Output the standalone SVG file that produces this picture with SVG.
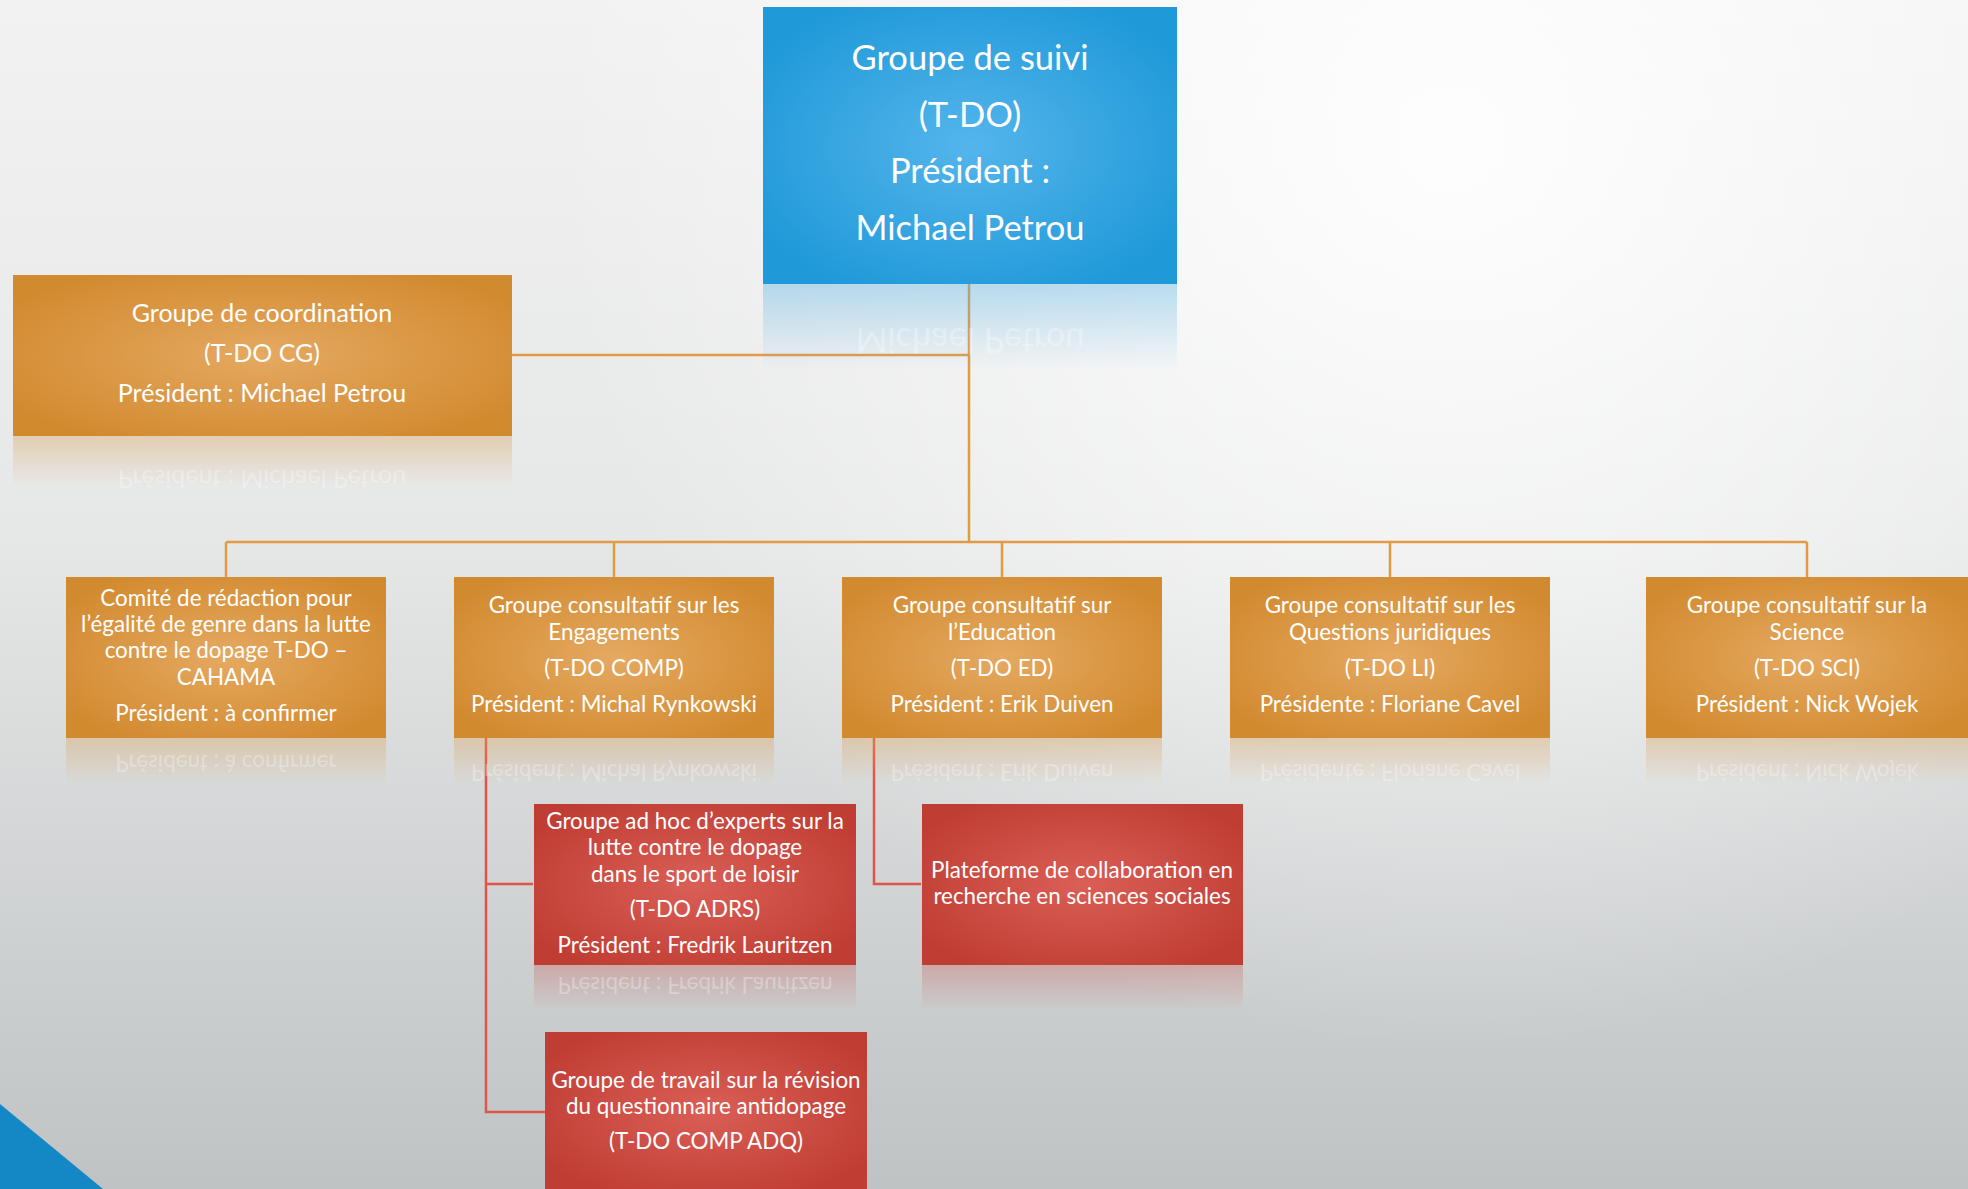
<svg xmlns="http://www.w3.org/2000/svg" width="1968" height="1189" viewBox="0 0 1968 1189">
<defs>
<linearGradient id="bg" x1="0" y1="0" x2="0" y2="1">
<stop offset="0" stop-color="#f2f2f2"/>
<stop offset="0.45" stop-color="#e6e7e7"/>
<stop offset="1" stop-color="#bfc3c4"/>
</linearGradient>
<radialGradient id="glow" cx="1450" cy="150" r="900" gradientUnits="userSpaceOnUse">
<stop offset="0" stop-color="#ffffff" stop-opacity="0.9"/>
<stop offset="1" stop-color="#ffffff" stop-opacity="0"/>
</radialGradient>
<radialGradient id="og" cx="0.5" cy="0.5" r="0.6">
<stop offset="0" stop-color="#e5a961"/>
<stop offset="1" stop-color="#d28a2f"/>
</radialGradient>
<radialGradient id="bgBlue" cx="0.5" cy="0.5" r="0.6">
<stop offset="0" stop-color="#54b5ec"/>
<stop offset="1" stop-color="#1f99d8"/>
</radialGradient>
<radialGradient id="rg" cx="0.5" cy="0.5" r="0.6">
<stop offset="0" stop-color="#da5f57"/>
<stop offset="1" stop-color="#c03d33"/>
</radialGradient>
<linearGradient id="orf" x1="0" y1="0" x2="0" y2="1">
<stop offset="0" stop-color="#d9a55f" stop-opacity="0.4"/>
<stop offset="1" stop-color="#d9a55f" stop-opacity="0"/>
</linearGradient>
<linearGradient id="brf" x1="0" y1="0" x2="0" y2="1">
<stop offset="0" stop-color="#5cb3e3" stop-opacity="0.4"/>
<stop offset="1" stop-color="#5cb3e3" stop-opacity="0"/>
</linearGradient>
<linearGradient id="rrf" x1="0" y1="0" x2="0" y2="1">
<stop offset="0" stop-color="#c8504a" stop-opacity="0.3"/>
<stop offset="1" stop-color="#c8504a" stop-opacity="0"/>
</linearGradient>
</defs>
<style>
text{font-family:Lato,"Open Sans","Liberation Sans",sans-serif;fill:#ffffff;text-anchor:middle}
.t{font-size:34.5px}
.c{font-size:25px}
.s{font-size:22.4px}
.rf{opacity:0.3}
.ol{stroke:#e29a46;stroke-width:2.5;fill:none}
.rl{stroke:#e0544a;stroke-width:2.5;fill:none}
</style>
<rect width="1968" height="1189" fill="url(#bg)"/>
<rect width="1968" height="1189" fill="url(#glow)"/>
<polygon points="0,1104 103,1189 0,1189" fill="#1487c5"/>

<g id="connectors">
<path class="ol" d="M969,284 V542"/>
<path class="ol" d="M512,355 H969"/>
<path class="ol" d="M226,542 H1807"/>
<path class="ol" d="M226,542 V577 M614,542 V577 M1002,542 V577 M1390,542 V577 M1807,542 V577"/>
<path class="rl" d="M486,738 V1112 H545 M486,884 H533"/>
<path class="rl" d="M874,738 V884 H921"/>
</g>

<g id="n-suivi">
<rect x="763" y="284" width="414" height="86" fill="url(#brf)"/>
<text class="t rf" transform="translate(0,568) scale(1,-1)" x="970" y="240">Michael Petrou</text>
<rect x="763" y="7" width="414" height="277" fill="url(#bgBlue)"/>
<text class="t" x="970" y="70">Groupe de suivi</text>
<text class="t" x="970" y="127">(T-DO)</text>
<text class="t" x="970" y="183">Président :</text>
<text class="t" x="970" y="240">Michael Petrou</text>
</g>

<g id="n-cg">
<rect x="13" y="436" width="499" height="50" fill="url(#orf)"/>
<text class="c rf" transform="translate(0,872) scale(1,-1)" x="262" y="402">Président : Michael Petrou</text>
<rect x="13" y="275" width="499" height="161" fill="url(#og)"/>
<text class="c" x="262" y="322">Groupe de coordination</text>
<text class="c" x="262" y="362">(T-DO CG)</text>
<text class="c" x="262" y="402">Président : Michael Petrou</text>
</g>

<g id="n-cahama">
<rect x="66" y="738" width="320" height="46" fill="url(#orf)"/>
<text class="s rf" transform="translate(0,1476) scale(1,-1)" x="226" y="721">Président : à confirmer</text>
<rect x="66" y="577" width="320" height="161" fill="url(#og)"/>
<text class="s" x="226" y="606">Comité de rédaction pour</text>
<text class="s" x="226" y="632">l’égalité de genre dans la lutte</text>
<text class="s" x="226" y="658">contre le dopage T-DO –</text>
<text class="s" x="226" y="685">CAHAMA</text>
<text class="s" x="226" y="721">Président : à confirmer</text>
</g>

<g id="n-comp">
<rect x="454" y="738" width="320" height="46" fill="url(#orf)"/>
<text class="s rf" transform="translate(0,1476) scale(1,-1)" x="614" y="712">Président : Michal Rynkowski</text>
<rect x="454" y="577" width="320" height="161" fill="url(#og)"/>
<text class="s" x="614" y="613">Groupe consultatif sur les</text>
<text class="s" x="614" y="640">Engagements</text>
<text class="s" x="614" y="676">(T-DO COMP)</text>
<text class="s" x="614" y="712">Président : Michal Rynkowski</text>
</g>

<g id="n-ed">
<rect x="842" y="738" width="320" height="46" fill="url(#orf)"/>
<text class="s rf" transform="translate(0,1476) scale(1,-1)" x="1002" y="712">Président : Erik Duiven</text>
<rect x="842" y="577" width="320" height="161" fill="url(#og)"/>
<text class="s" x="1002" y="613">Groupe consultatif sur</text>
<text class="s" x="1002" y="640">l’Education</text>
<text class="s" x="1002" y="676">(T-DO ED)</text>
<text class="s" x="1002" y="712">Président : Erik Duiven</text>
</g>

<g id="n-li">
<rect x="1230" y="738" width="320" height="46" fill="url(#orf)"/>
<text class="s rf" transform="translate(0,1476) scale(1,-1)" x="1390" y="712">Présidente : Floriane Cavel</text>
<rect x="1230" y="577" width="320" height="161" fill="url(#og)"/>
<text class="s" x="1390" y="613">Groupe consultatif sur les</text>
<text class="s" x="1390" y="640">Questions juridiques</text>
<text class="s" x="1390" y="676">(T-DO LI)</text>
<text class="s" x="1390" y="712">Présidente : Floriane Cavel</text>
</g>

<g id="n-sci">
<rect x="1646" y="738" width="322" height="46" fill="url(#orf)"/>
<text class="s rf" transform="translate(0,1476) scale(1,-1)" x="1807" y="712">Président : Nick Wojek</text>
<rect x="1646" y="577" width="322" height="161" fill="url(#og)"/>
<text class="s" x="1807" y="613">Groupe consultatif sur la</text>
<text class="s" x="1807" y="640">Science</text>
<text class="s" x="1807" y="676">(T-DO SCI)</text>
<text class="s" x="1807" y="712">Président : Nick Wojek</text>
</g>

<g id="n-adrs">
<rect x="534" y="965" width="322" height="46" fill="url(#rrf)"/>
<text class="s rf" transform="translate(0,1930) scale(1,-1)" x="695" y="953">Président : Fredrik Lauritzen</text>
<rect x="534" y="804" width="322" height="161" fill="url(#rg)"/>
<text class="s" x="695" y="829">Groupe ad hoc d’experts sur la</text>
<text class="s" x="695" y="855">lutte contre le dopage</text>
<text class="s" x="695" y="882">dans le sport de loisir</text>
<text class="s" x="695" y="917">(T-DO ADRS)</text>
<text class="s" x="695" y="953">Président : Fredrik Lauritzen</text>
</g>

<g id="n-platform">
<rect x="922" y="965" width="321" height="46" fill="url(#rrf)"/>
<rect x="922" y="804" width="321" height="161" fill="url(#rg)"/>
<text class="s" x="1082" y="878">Plateforme de collaboration en</text>
<text class="s" x="1082" y="904">recherche en sciences sociales</text>
</g>

<g id="n-adq">
<rect x="545" y="1032" width="322" height="157" fill="url(#rg)"/>
<text class="s" x="706" y="1088">Groupe de travail sur la révision</text>
<text class="s" x="706" y="1114">du questionnaire antidopage</text>
<text class="s" x="706" y="1149">(T-DO COMP ADQ)</text>
</g>
</svg>
